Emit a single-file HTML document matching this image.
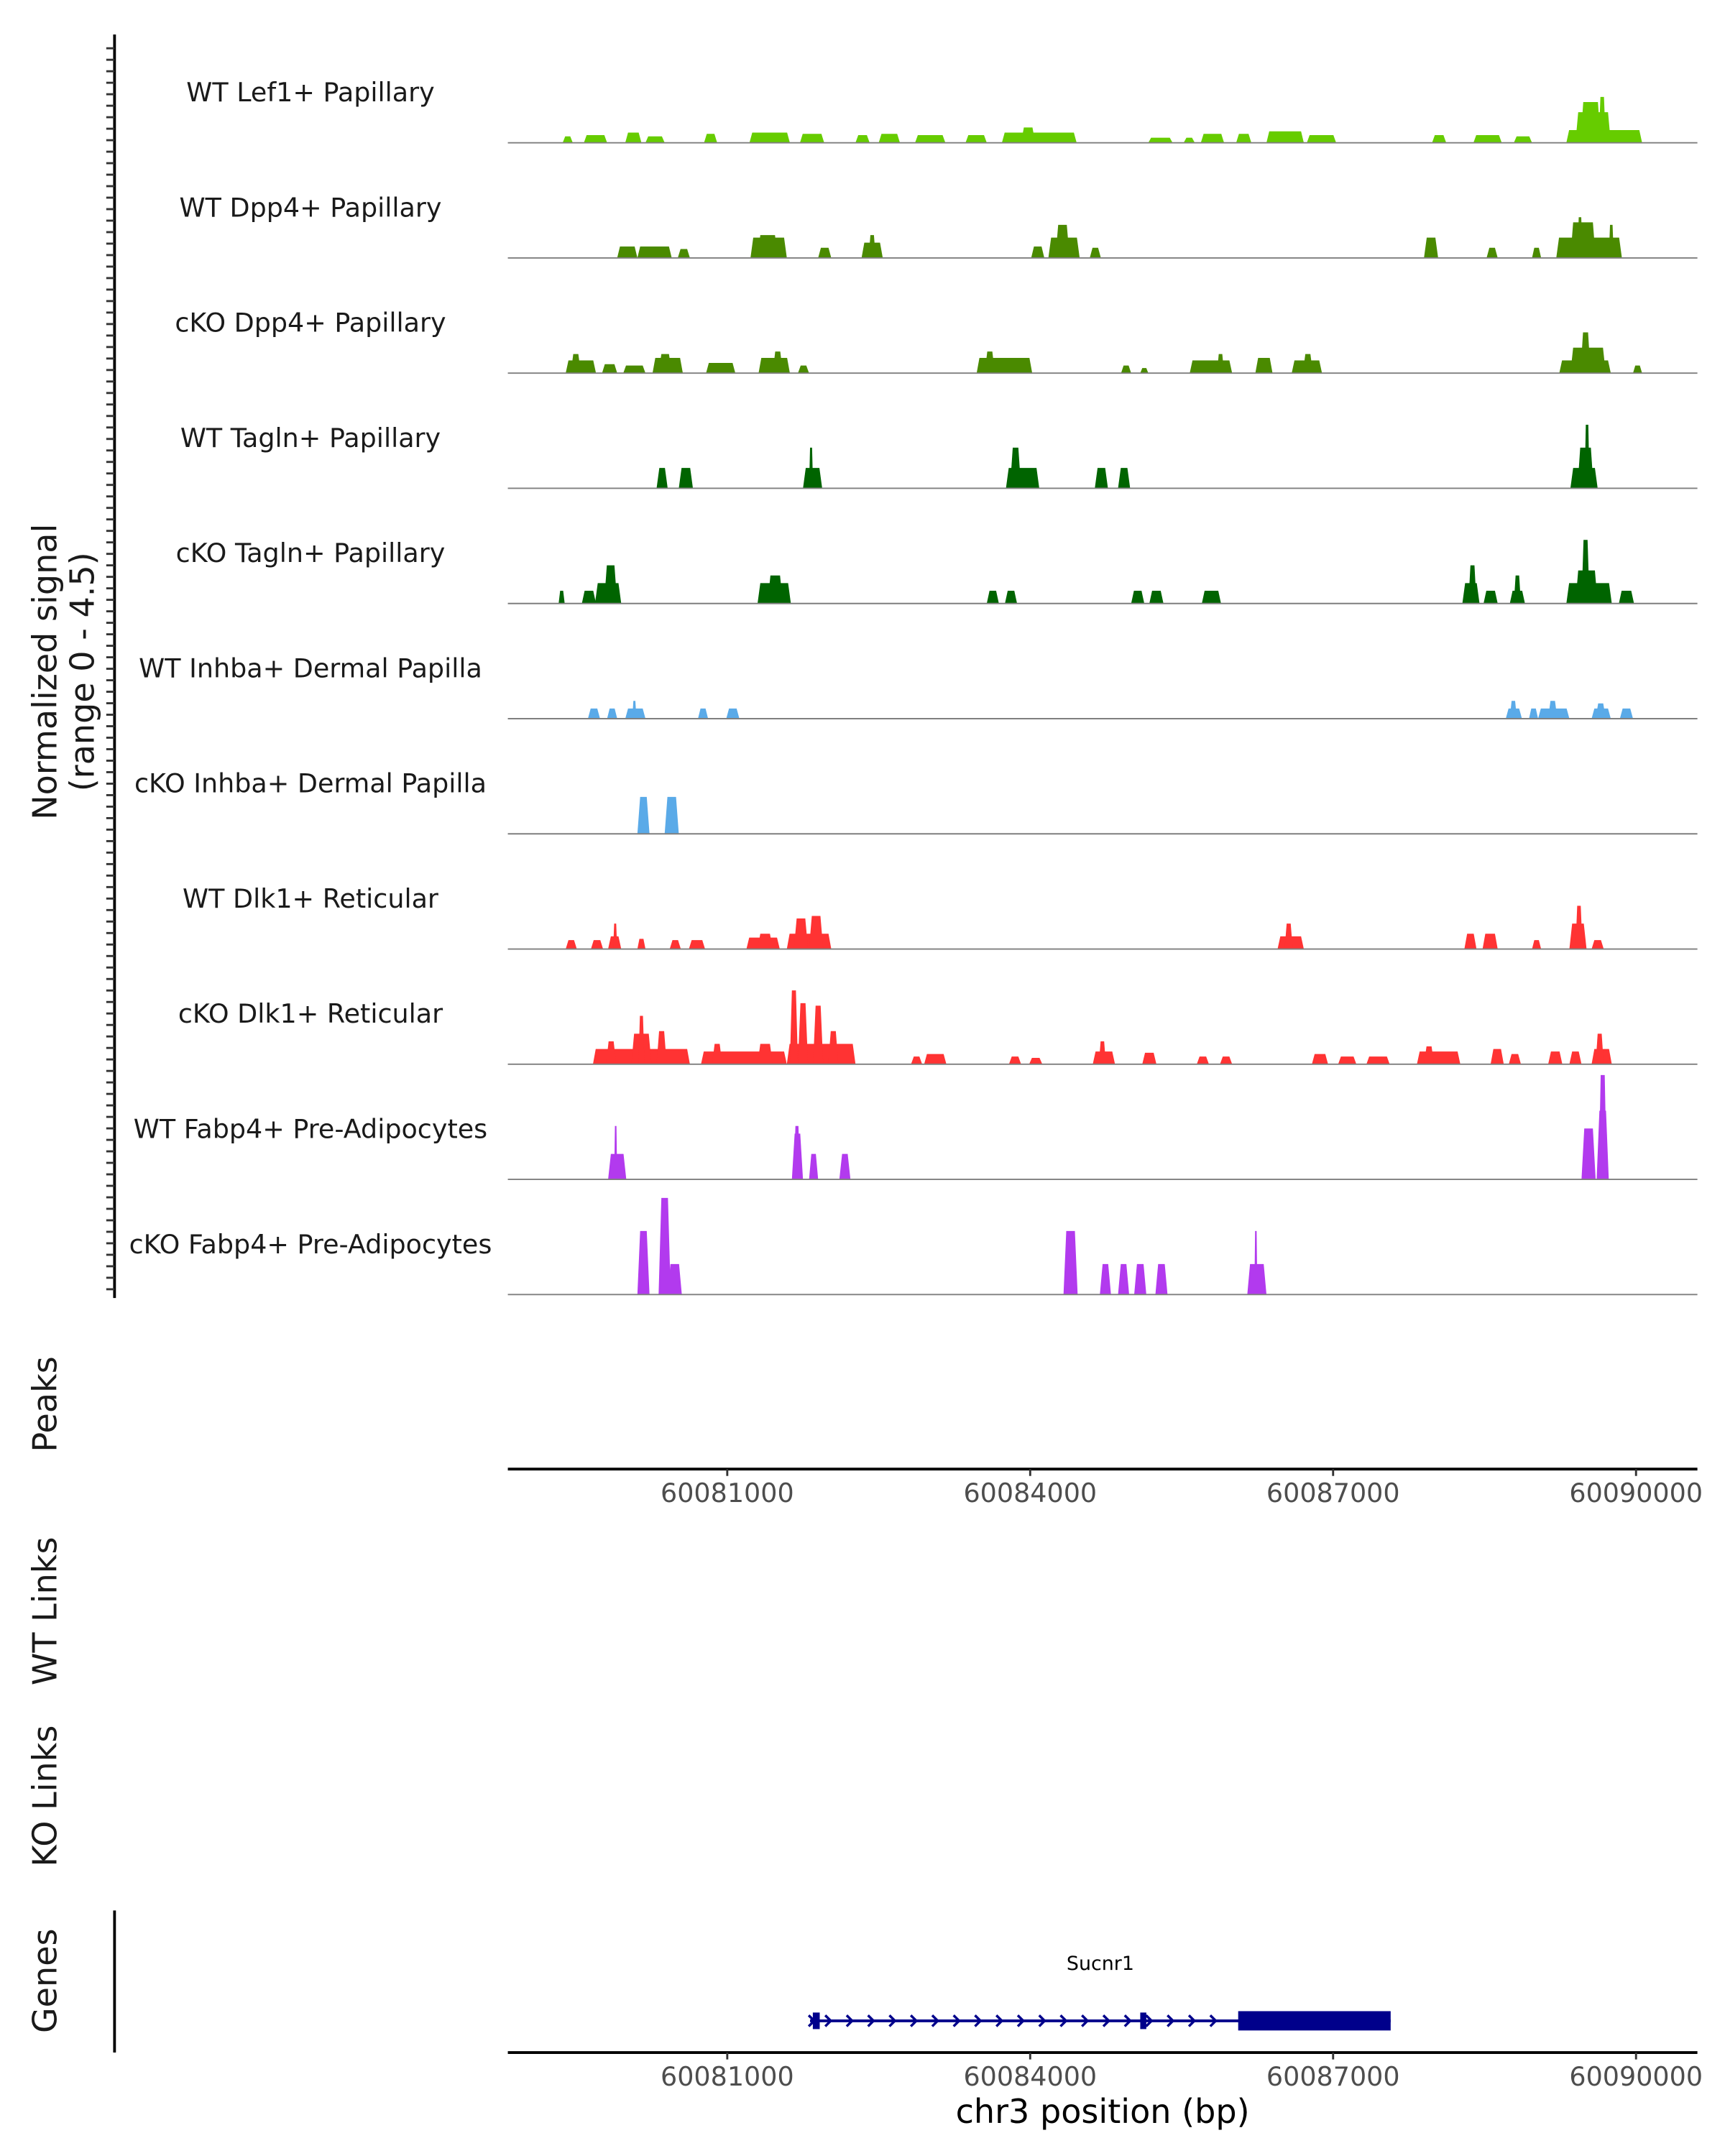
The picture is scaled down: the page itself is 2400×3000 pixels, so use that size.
<!DOCTYPE html>
<html><head><meta charset="utf-8"><style>
html,body{margin:0;padding:0;background:#fff;}
svg{display:block;font-family:"DejaVu Sans","Liberation Sans",sans-serif;}
</style></head><body>
<svg id="chart" width="2400" height="3000" viewBox="0 0 1250 1563" preserveAspectRatio="none" xmlns="http://www.w3.org/2000/svg">
<rect width="1250" height="1563" fill="#fff"/>
<g id="tracks"></g>
<line x1="83" y1="25" x2="83" y2="941" stroke="#000" stroke-width="2"/>
<g id="yticks"></g>
<text transform="translate(41,487) rotate(-90)" text-anchor="middle" font-size="24" fill="#1a1a1a"><tspan x="0" dy="0">Normalized signal</tspan><tspan x="0" dy="27">(range 0 - 4.5)</tspan></text>
<text transform="translate(41,1018) rotate(-90)" text-anchor="middle" font-size="24" fill="#1a1a1a">Peaks</text>
<line x1="368" y1="1065" x2="1230" y2="1065" stroke="#000" stroke-width="2"/>
<g id="xt1"></g>
<text transform="translate(41,1168) rotate(-90)" text-anchor="middle" font-size="24" fill="#1a1a1a">WT Links</text>
<text transform="translate(41,1302) rotate(-90)" text-anchor="middle" font-size="24" fill="#1a1a1a">KO Links</text>
<text transform="translate(41,1436) rotate(-90)" text-anchor="middle" font-size="24" fill="#1a1a1a">Genes</text>
<line x1="83" y1="1385" x2="83" y2="1488" stroke="#000" stroke-width="2"/>
<g id="gene"></g>
<line x1="368" y1="1488" x2="1230" y2="1488" stroke="#000" stroke-width="2"/>
<g id="xt2"></g>
<text x="799" y="1539" text-anchor="middle" font-size="24" fill="#000">chr3 position (bp)</text>
</svg>
<script>
// positions in kb past 60,078,000 bp
const ORIGIN_KB = 60078;
const tickKb = [3, 6, 9, 12];
const tickLabels = ["60081000", "60084000", "60087000", "60090000"];
const trackNames = ["WT Lef1+ Papillary","WT Dpp4+ Papillary","cKO Dpp4+ Papillary","WT Tagln+ Papillary","cKO Tagln+ Papillary","WT Inhba+ Dermal Papilla","cKO Inhba+ Dermal Papilla","WT Dlk1+ Reticular","cKO Dlk1+ Reticular","WT Fabp4+ Pre-Adipocytes","cKO Fabp4+ Pre-Adipocytes"];
const trackColors = ["#66CC00","#4A8A00","#4A8A00","#006400","#006400","#5AAAE8","#5AAAE8","#FF3333","#FF3333","#B23AEE","#B23AEE"];
// [startKb, endKb, signal]
const lef1Wt = [[1.37,1.47,0.25],[1.58,1.81,0.3],[1.99,2.15,0.4],[2.19,2.38,0.25],[2.77,2.90,0.35],[3.22,3.62,0.4],[3.72,3.96,0.35],[4.27,4.41,0.3],[4.50,4.71,0.35],[4.86,5.16,0.3],[5.36,5.57,0.3],[5.72,6.46,0.4],[5.91,6.05,0.6],[7.17,7.41,0.2],[7.52,7.63,0.2],[7.69,7.92,0.35],[8.04,8.19,0.35],[8.34,8.71,0.45],[8.74,9.03,0.3],[9.98,10.12,0.3],[10.39,10.67,0.3],[10.79,10.97,0.25],[11.31,12.06,0.5],[11.40,11.75,1.2],[11.45,11.65,1.6],[11.63,11.70,1.8]];
const dpp4Wt = [[1.91,2.11,0.45],[2.11,2.45,0.45],[2.51,2.63,0.35],[3.23,3.59,0.8],[3.30,3.50,0.9],[3.90,4.03,0.4],[4.33,4.54,0.6],[4.40,4.47,0.9],[6.01,6.14,0.45],[6.18,6.49,0.8],[6.25,6.39,1.3],[6.59,6.70,0.4],[9.90,10.04,0.8],[10.52,10.63,0.4],[10.97,11.06,0.4],[11.21,11.86,0.8],[11.35,11.60,1.4],[11.42,11.47,1.6],[11.73,11.78,1.3]];
const dpp4Ko = [[1.40,1.70,0.5],[1.45,1.55,0.75],[1.76,1.91,0.35],[1.97,2.19,0.3],[2.26,2.56,0.6],[2.32,2.45,0.75],[2.79,3.08,0.4],[3.31,3.62,0.6],[3.45,3.55,0.85],[3.70,3.81,0.3],[5.47,6.02,0.6],[5.55,5.65,0.85],[6.90,7.00,0.3],[7.09,7.17,0.2],[7.58,8.00,0.5],[7.85,7.92,0.75],[8.23,8.40,0.6],[8.59,8.89,0.5],[8.70,8.80,0.75],[11.24,11.75,0.5],[11.35,11.70,1.0],[11.45,11.55,1.6],[11.97,12.06,0.3]];
const taglnWt = [[2.30,2.41,0.8],[2.52,2.66,0.8],[3.75,3.94,0.8],[3.81,3.85,1.6],[5.76,6.09,0.8],[5.80,5.91,1.6],[6.64,6.77,0.8],[6.87,6.99,0.8],[11.35,11.62,0.8],[11.42,11.58,1.6],[11.49,11.54,2.5]];
const taglnKo = [[1.33,1.39,0.5],[1.56,1.70,0.5],[1.69,1.95,0.8],[1.78,1.91,1.5],[3.30,3.63,0.8],[3.40,3.55,1.1],[5.57,5.69,0.5],[5.75,5.87,0.5],[7.00,7.13,0.5],[7.18,7.32,0.5],[7.70,7.89,0.5],[10.28,10.45,0.8],[10.34,10.42,1.5],[10.49,10.63,0.5],[10.75,10.90,0.5],[10.79,10.86,1.1],[11.31,11.76,0.8],[11.40,11.62,1.3],[11.46,11.54,2.5],[11.83,11.98,0.5]];
const inhbaWt = [[1.62,1.74,0.4],[1.81,1.91,0.4],[1.99,2.19,0.4],[2.06,2.10,0.7],[2.71,2.81,0.4],[2.99,3.12,0.4],[10.71,10.87,0.4],[10.75,10.82,0.7],[10.94,11.03,0.4],[11.03,11.34,0.4],[11.13,11.22,0.7],[11.56,11.75,0.4],[11.60,11.70,0.6],[11.84,11.97,0.4]];
const inhbaKo = [[2.11,2.23,1.45],[2.38,2.52,1.45]];
const dlk1Wt = [[1.40,1.51,0.35],[1.65,1.77,0.35],[1.82,1.95,0.5],[1.87,1.91,1.0],[2.11,2.19,0.4],[2.43,2.54,0.35],[2.62,2.78,0.35],[3.19,3.52,0.45],[3.30,3.45,0.6],[3.59,4.03,0.6],[3.66,3.80,1.2],[3.81,3.95,1.3],[8.45,8.71,0.5],[8.52,8.60,1.0],[10.30,10.42,0.6],[10.48,10.63,0.6],[10.97,11.06,0.35],[11.34,11.51,1.0],[11.40,11.47,1.7],[11.56,11.68,0.35]];
const dlk1Ko = [[1.67,2.63,0.6],[1.80,1.90,0.9],[2.05,2.25,1.2],[2.12,2.18,1.9],[2.30,2.40,1.3],[2.74,3.59,0.5],[2.85,2.95,0.8],[3.30,3.45,0.8],[3.59,4.27,0.8],[3.62,3.70,2.9],[3.70,3.80,2.4],[3.85,3.95,2.3],[4.00,4.10,1.3],[4.82,4.93,0.3],[4.95,5.17,0.4],[5.79,5.91,0.3],[5.99,6.12,0.25],[6.62,6.84,0.5],[6.68,6.75,0.9],[7.11,7.25,0.45],[7.65,7.77,0.3],[7.88,8.00,0.3],[8.79,8.95,0.4],[9.05,9.23,0.3],[9.33,9.56,0.3],[9.83,10.26,0.5],[9.90,10.00,0.7],[10.56,10.69,0.6],[10.74,10.86,0.4],[11.13,11.27,0.5],[11.34,11.46,0.5],[11.56,11.76,0.6],[11.60,11.68,1.2]];
const fabp4Wt = [[1.82,2.00,1.0],[1.88,1.91,2.1],[3.64,3.75,1.8],[3.66,3.72,2.1],[3.81,3.90,1.0],[4.11,4.22,1.0],[11.46,11.60,2.0],[11.61,11.73,2.7],[11.63,11.71,4.1]];
const fabp4Ko = [[2.11,2.23,2.5],[2.32,2.44,3.8],[2.41,2.55,1.2],[6.33,6.47,2.5],[6.69,6.80,1.2],[6.87,6.98,1.2],[7.03,7.15,1.2],[7.24,7.36,1.2],[8.15,8.34,1.2],[8.22,8.25,2.5]];
const trackData = [lef1Wt,dpp4Wt,dpp4Ko,taglnWt,taglnKo,inhbaWt,inhbaKo,dlk1Wt,dlk1Ko,fabp4Wt,fabp4Ko];
const geneName = "Sucnr1";
const geneStartKb = 3.82, geneEndKb = 9.57, cdsStartKb = 8.06, exon2Kb = [7.09, 7.15];

const NS = "http://www.w3.org/2000/svg";
const xs = kb => 527 + (kb - 3) * 73.17;
const signalMax = 4.5, trackH = 83.5, firstBase = 103.5;
const ys = (i, v) => firstBase + i * trackH - v / signalMax * 83;
function mk(tag, attrs, parent) { const e = document.createElementNS(NS, tag); for (const k in attrs) e.setAttribute(k, attrs[k]); parent.appendChild(e); return e; }

const tracks = document.getElementById('tracks');
trackData.forEach((data, i) => {
  const g = mk('g', {}, tracks);
  
  
  const base = ys(i, 0);
  data.forEach(d => {
    const x0 = xs(d[0]), x1 = xs(d[1]), y = ys(i, d[2]);
    const s = Math.min(2, (x1 - x0) / 4);
    const p = mk('polygon', {points: `${x0},${base} ${x0 + s},${y} ${x1 - s},${y} ${x1},${base}`, fill: trackColors[i]}, g);
    
    
  });
  const bl = mk('line', {x1: 368, x2: 1230, y1: base, y2: base, stroke: '#7f7f7f', 'stroke-width': 1}, g);
  
  
  const t = mk('text', {x: 225, y: base - 30, 'text-anchor': 'middle', 'font-size': 19, fill: '#1a1a1a'}, g);
  t.textContent = trackNames[i];
  
  
});

const yt = document.getElementById('yticks');
for (let y = 35; y <= 940; y += 8.33) {
  const l = mk('line', {x1: 77, x2: 83, y1: y, y2: y, stroke: '#333', 'stroke-width': 1.5}, yt);
  
  
}

function xTicks(id, axisY) {
  const g = document.getElementById(id);
  tickKb.forEach((kb, j) => {
    const x = xs(kb);
    const l = mk('line', {x1: x, x2: x, y1: axisY, y2: axisY + 5, stroke: '#333', 'stroke-width': 1.5}, g);
    
    
    const t = mk('text', {x: x, y: axisY + 24, 'text-anchor': 'middle', 'font-size': 19, fill: '#4d4d4d'}, g);
    t.textContent = tickLabels[j];
    
    
  });
}
xTicks('xt1', 1065);
xTicks('xt2', 1488);

const gg = document.getElementById('gene');
const gy = 1465, gx0 = xs(geneStartKb), gx1 = xs(geneEndKb), cx = xs(cdsStartKb);
mk('line', {x1: gx0, x2: gx1, y1: gy, y2: gy, stroke: '#00008B', 'stroke-width': 2}, gg);
for (let x = gx0 + 14; x < cx - 4; x += 15.5) {
  mk('polyline', {points: `${x - 3},${gy - 4} ${x + 1},${gy} ${x - 3},${gy + 4}`, fill: 'none', stroke: '#00008B', 'stroke-width': 1.8}, gg);
}
mk('polyline', {points: `${gx0 - 1},${gy - 4} ${gx0 + 3},${gy} ${gx0 - 1},${gy + 4}`, fill: 'none', stroke: '#00008B', 'stroke-width': 1.8}, gg);
mk('rect', {x: gx0 + 2, y: gy - 6, width: 5, height: 12, fill: '#00008B'}, gg);
mk('rect', {x: xs(exon2Kb[0]), y: gy - 6, width: xs(exon2Kb[1]) - xs(exon2Kb[0]), height: 12, fill: '#00008B'}, gg);
const cds = mk('rect', {x: cx, y: gy - 7, width: gx1 - cx, height: 14, fill: '#00008B'}, gg);


const gl = mk('text', {x: (gx0 + gx1) / 2, y: 1428, 'text-anchor': 'middle', 'font-size': 14, fill: '#000'}, gg);
gl.textContent = geneName;


</script>
</body></html>
